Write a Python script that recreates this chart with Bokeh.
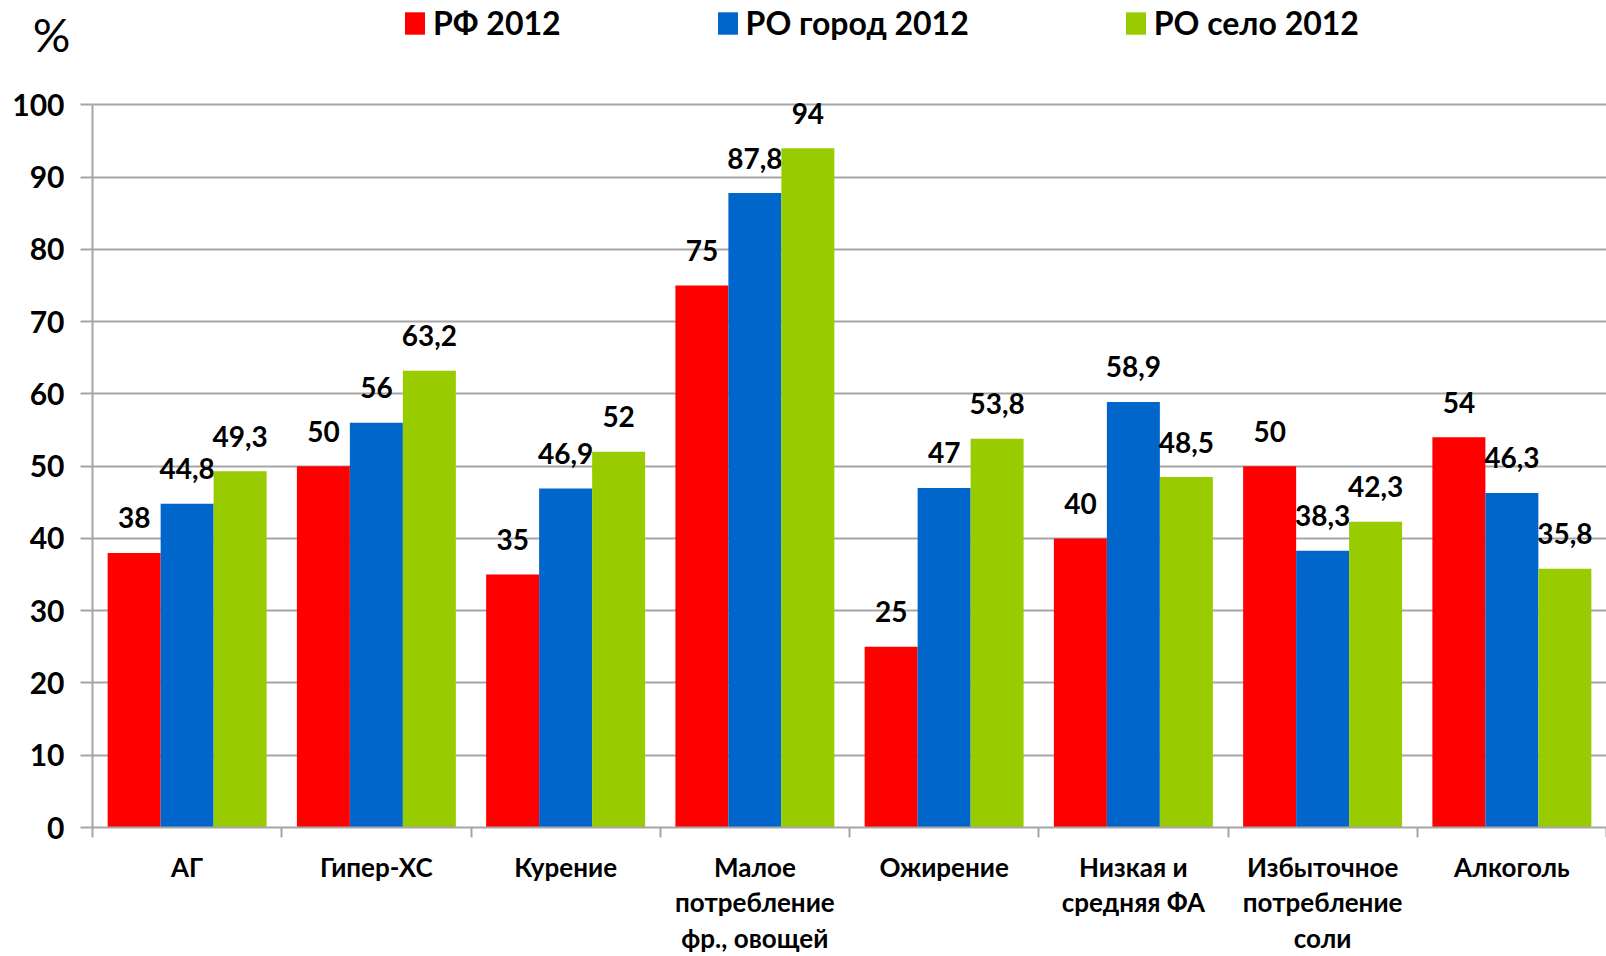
from bokeh.plotting import figure
from bokeh.models import (ColumnDataSource, FixedTicker, Range1d, Legend, LegendItem)
from bokeh.transform import dodge
from bokeh.embed import file_html
from bokeh.resources import INLINE
from bokeh.core.properties import value

# ---- data ----
categories = ["АГ", "Гипер-ХС", "Курение", "Малое\nпотребление\nфр., овощей", "Ожирение",
              "Низкая и\nсредняя ФА", "Избыточное\nпотребление\nсоли", "Алкоголь"]
series_names = ["РФ 2012", "РО город 2012", "РО село 2012"]
rf_2012 = [38, 50, 35, 75, 25, 40, 50, 54]
ro_city_2012 = [44.8, 56, 46.9, 87.8, 47, 58.9, 38.3, 46.3]
ro_village_2012 = [49.3, 63.2, 52, 94, 53.8, 48.5, 42.3, 35.8]
y_ticks = [0, 10, 20, 30, 40, 50, 60, 70, 80, 90, 100]
colors = ["#FF0000", "#0066CC", "#99CC00"]

FONT = "Lato"
GRAY = "#A6A6A6"

def fmt(v):
    return f"{v:g}".replace(".", ",")

n = len(categories)
centers = [i + 0.5 for i in range(n)]
bounds_ticks = list(range(n + 1))

src = ColumnDataSource(dict(
    x=centers,
    rf=rf_2012, city=ro_city_2012, village=ro_village_2012,
    rf_l=[fmt(v) for v in rf_2012],
    city_l=[fmt(v) for v in ro_city_2012],
    village_l=[fmt(v) for v in ro_village_2012],
))

p = figure(width=1606, height=956, output_backend="svg", toolbar_location=None,
           x_range=Range1d(0, n), y_range=Range1d(0, 114.45),
           min_border_left=92, min_border_right=0, min_border_top=0, min_border_bottom=126)
p.outline_line_color = None
p.background_fill_color = "white"

bw = 0.28
offsets = [-bw, 0, bw]
fields = ["rf", "city", "village"]
lfields = ["rf_l", "city_l", "village_l"]
renderers = []
for f, lf, off, c in zip(fields, lfields, offsets, colors):
    r = p.vbar(x=dodge("x", off), top=f, width=bw, bottom=0, source=src,
               fill_color=c, line_color=None)
    renderers.append(r)
    p.text(x=dodge("x", off), y=f, text=lf, source=src, text_align="center",
           text_baseline="alphabetic", y_offset=-35,
           text_font=value(FONT), text_font_style="bold", text_font_size="28px",
           text_color="black")

# y axis
p.yaxis.ticker = FixedTicker(ticks=y_ticks)
p.yaxis.bounds = (min(y_ticks), max(y_ticks))
p.yaxis.axis_line_color = GRAY
p.yaxis.axis_line_width = 2
p.yaxis.major_tick_line_color = GRAY
p.yaxis.major_tick_line_width = 2
p.yaxis.major_tick_out = 12
p.yaxis.major_tick_in = 0
p.yaxis.minor_tick_line_color = None
p.yaxis.major_label_text_font = FONT
p.yaxis.major_label_text_font_style = "bold"
p.yaxis.major_label_text_font_size = "30px"
p.yaxis.major_label_text_color = "black"
p.yaxis.major_label_standoff = 16
p.yaxis.axis_label = "\n%"
p.yaxis.axis_label_orientation = "horizontal"
p.yaxis.axis_label_align = "end"
p.yaxis.axis_label_standoff = -61
p.yaxis.axis_label_text_font = FONT
p.yaxis.axis_label_text_font_style = "normal"
p.yaxis.axis_label_text_font_size = "47px"
p.yaxis.axis_label_text_color = "black"

p.ygrid.ticker = FixedTicker(ticks=y_ticks)
p.ygrid.grid_line_color = GRAY
p.ygrid.grid_line_width = 2
p.xgrid.visible = False

# x axis
p.xaxis.ticker = FixedTicker(ticks=centers, minor_ticks=bounds_ticks)
p.xaxis.major_label_overrides = {c: lab for c, lab in zip(centers, categories)}
p.xaxis.axis_line_color = GRAY
p.xaxis.axis_line_width = 2
p.xaxis.major_tick_line_color = None
p.xaxis.minor_tick_line_color = GRAY
p.xaxis.minor_tick_line_width = 2
p.xaxis.minor_tick_out = 10
p.xaxis.minor_tick_in = 0
p.xaxis.major_tick_out = 10
p.xaxis.major_tick_in = 0
p.xaxis.major_label_text_font = FONT
p.xaxis.major_label_text_font_style = "bold"
p.xaxis.major_label_text_font_size = "26px"
p.xaxis.major_label_text_color = "black"
p.xaxis.major_label_text_line_height = 1.11
p.xaxis.major_label_standoff = 13

legend = Legend(items=[LegendItem(label=nm, renderers=[r]) for nm, r in zip(series_names, renderers)],
                orientation="horizontal", location=(310, 785),
                glyph_width=25, glyph_height=28, label_standoff=6, spacing=154,
                padding=0, margin=0, border_line_color=None, background_fill_alpha=0,
                label_text_font=FONT, label_text_font_style="bold", label_text_font_size="32px",
                label_text_color="black")
p.add_layout(legend)

open("out.html", "w").write(file_html(p, INLINE))
